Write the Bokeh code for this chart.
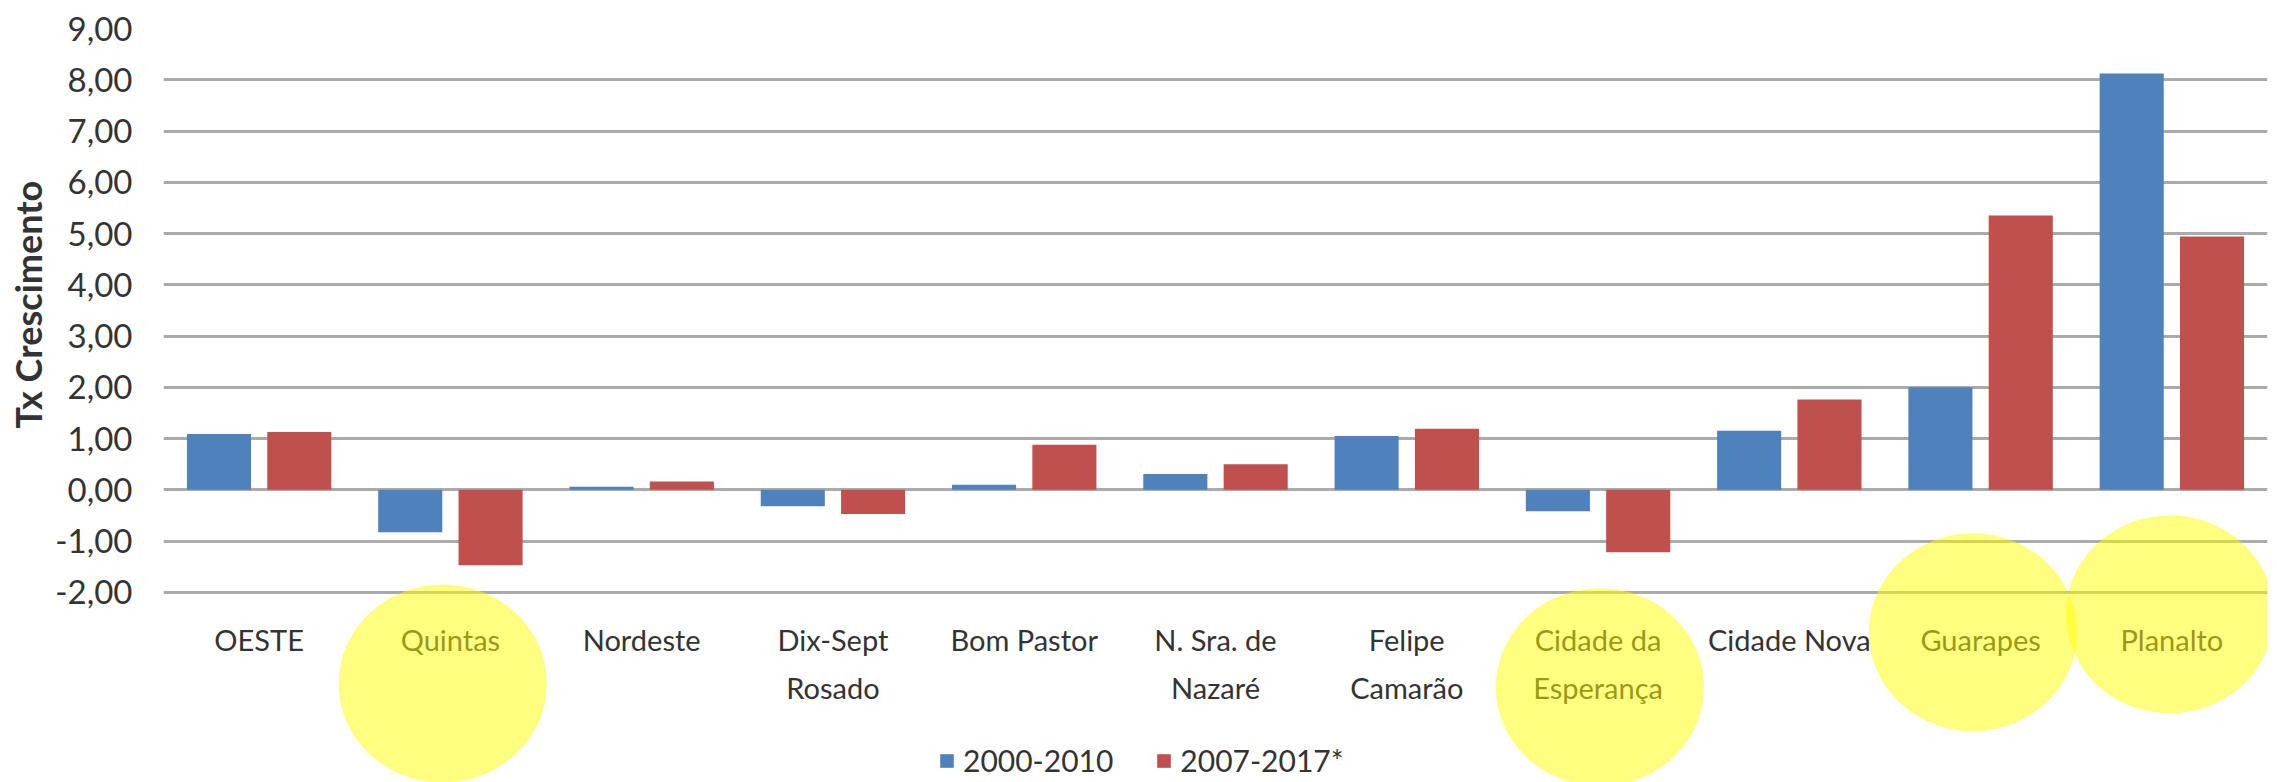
import numpy as np
from bokeh.plotting import figure
from bokeh.models import (ColumnDataSource, FixedTicker, Legend, LegendItem,
                          PolyAnnotation, Range1d, Title)
from bokeh.transform import dodge
from bokeh.embed import file_html
from bokeh.resources import INLINE

# ---- data ----
categories = ["OESTE", "Quintas", "Nordeste", "Dix-Sept\nRosado", "Bom Pastor",
              "N. Sra. de\nNazaré", "Felipe\nCamarão", "Cidade da\nEsperança",
              "Cidade Nova", "Guarapes", "Planalto"]
serie_2000_2010 = [1.09, -0.83, 0.06, -0.32, 0.10, 0.31, 1.05, -0.42, 1.15, 2.00, 8.12]
serie_2007_2017 = [1.13, -1.47, 0.16, -0.47, 0.88, 0.50, 1.19, -1.22, 1.76, 5.35, 4.94]
series_names = ["2000-2010", "2007-2017*"]
y_ticks = [-2, -1, 0, 1, 2, 3, 4, 5, 6, 7, 8, 9]
y_title = "Tx Crescimento"
# highlighted categories (yellow circles drawn over the labels)
highlight_idx = [1, 7, 9, 10]
highlight_dx = [-0.04, 0.01, -0.04, -0.01]
highlight_y = [-3.78, -3.85, -2.78, -2.43]

BLUE = "#4F81BD"
RED = "#C0504D"
FONT = "Lato"
TXT = "#333333"

x = list(range(len(categories)))
src = ColumnDataSource(dict(x=x, a=serie_2000_2010, b=serie_2007_2017))

# the frame reaches the bottom of the canvas so the highlight circles can cover the labels
p = figure(width=2261, height=782, output_backend="svg", toolbar_location=None,
           x_range=Range1d(-0.5, len(categories) - 0.5),
           y_range=Range1d(-5.71, y_ticks[-1]),
           frame_width=2104, frame_height=754,
           min_border_left=147, min_border_right=10, min_border_top=28,
           min_border_bottom=0)
p.outline_line_color = None
p.background_fill_color = "white"
p.border_fill_color = "white"

r1 = p.vbar(x=dodge("x", -0.21), top="a", bottom=0, width=0.335, source=src,
            fill_color=BLUE, line_color=None)
r2 = p.vbar(x=dodge("x", 0.21), top="b", bottom=0, width=0.335, source=src,
            fill_color=RED, line_color=None)

# axes
p.xaxis.fixed_location = y_ticks[0]
p.xaxis.ticker = FixedTicker(ticks=x)
p.xaxis.major_label_overrides = {i: c for i, c in enumerate(categories)}
p.xaxis.axis_line_color = None
p.xaxis.major_tick_line_color = None
p.xaxis.minor_tick_line_color = None
p.xaxis.major_label_standoff = 24
p.xaxis.major_label_text_font = FONT
p.xaxis.major_label_text_font_size = "29px"
p.xaxis.major_label_text_color = TXT
p.xaxis.major_label_text_line_height = 1.35
p.xgrid.grid_line_color = None

p.yaxis.ticker = FixedTicker(ticks=y_ticks)
p.yaxis.major_label_overrides = {t: f"{t:.2f}".replace(".", ",") for t in y_ticks}
p.yaxis.axis_line_color = None
p.yaxis.major_tick_line_color = None
p.yaxis.minor_tick_line_color = None
p.yaxis.major_label_standoff = 25
p.yaxis.major_label_text_font = FONT
p.yaxis.major_label_text_font_size = "33px"
p.yaxis.major_label_text_color = TXT
p.ygrid.ticker = FixedTicker(ticks=y_ticks)
p.ygrid.grid_line_color = "#ABABAB"
p.ygrid.grid_line_width = 3

# y-axis title, centred on the -2..9 value span (not on the whole frame)
p.add_layout(Title(text=y_title, align="left", offset=354, standoff=6,
                   text_font=FONT, text_font_size="36px", text_font_style="bold",
                   text_color=TXT), "left")

# legend
legend = Legend(items=[LegendItem(label=series_names[0], renderers=[r1]),
                       LegendItem(label=series_names[1], renderers=[r2])],
                orientation="horizontal", location=(775, 4),
                glyph_width=17, glyph_height=17, label_standoff=8, spacing=42,
                padding=0, margin=0, border_line_color=None,
                background_fill_alpha=0,
                label_text_font=FONT, label_text_font_size="30px",
                label_text_color=TXT)
p.add_layout(legend)

# yellow highlight circles
rx, ry = 0.544, 1.93
t = np.linspace(0, 2 * np.pi, 120)
for i, dx, cy in zip(highlight_idx, highlight_dx, highlight_y):
    cx = x[i] + dx
    p.add_layout(PolyAnnotation(xs=list(cx + rx * np.cos(t)), ys=list(cy + ry * np.sin(t)),
                                fill_color="#FFFF00", fill_alpha=0.5, line_color=None,
                                level="overlay"))

open("out.html", "w").write(file_html(p, INLINE))
